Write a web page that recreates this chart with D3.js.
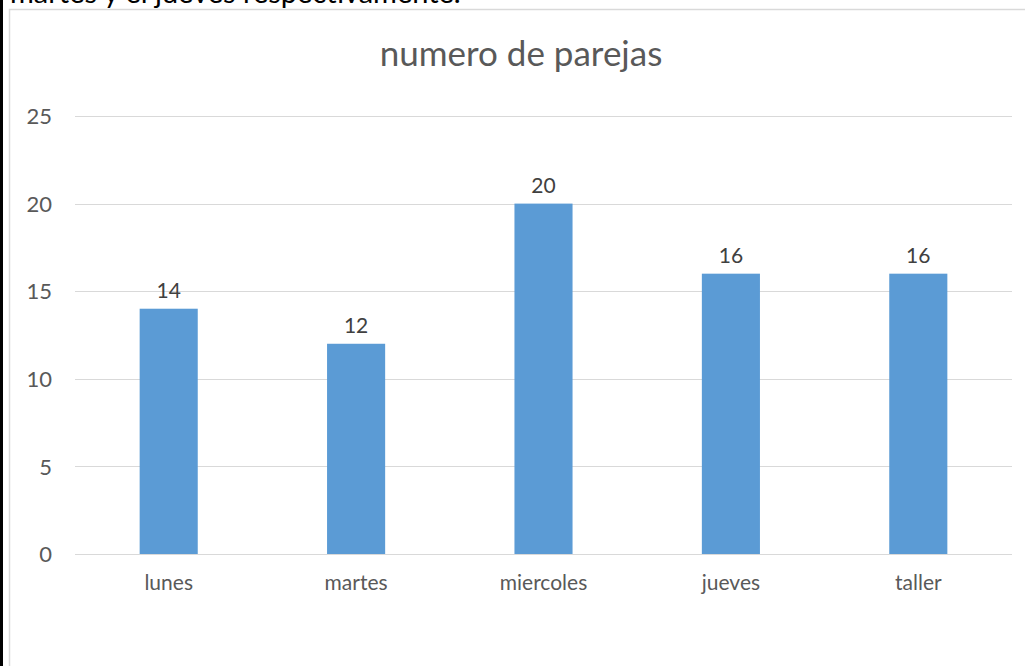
<!DOCTYPE html>
<html lang="es">
<head>
<meta charset="UTF-8" />
<title>numero de parejas</title>
<style>
  body { margin: 0; background: #fff; overflow: hidden; }
  svg { display: block; font-family: Lato, "Open Sans", sans-serif; }
  .grid line { stroke: #d9d9d9; stroke-width: 1px; }
  .axis text { fill: #595959; font-size: 21px; font-family: Lato, "Open Sans", sans-serif; }
  .yaxis text { font-size: 22px; }
  .label { fill: #404040; font-size: 21px; text-anchor: middle; }
</style>
</head>
<body>
<svg id="chart"></svg>
<script src="https://cdn.jsdelivr.net/npm/d3@7"></script>
<script>
// data
const categories = ["lunes", "martes", "miercoles", "jueves", "taller"];
const values = [14, 12, 20, 16, 16];
const yTicks = [0, 5, 10, 15, 20, 25];
const chartTitle = "numero de parejas";
const pageText = "martes y el jueves respectivamente.";

const width = 1025, height = 666;
const svg = d3.select("#chart").attr("width", width).attr("height", height);

// page bits around the chart
svg.append("rect").attr("x", 0).attr("y", 0).attr("width", 3).attr("height", height).attr("fill", "#000");
svg.append("text")
  .attr("x", 10).attr("y", 3)
  .attr("font-size", 29).attr("fill", "#000")
  .text(pageText);

// chart frame (right/bottom run off the page)
svg.append("rect")
  .attr("x", 9.5).attr("y", 9.5)
  .attr("width", width + 20).attr("height", height + 20)
  .attr("fill", "none").attr("stroke", "#d9d9d9").attr("stroke-width", 1.5);

svg.append("text")
  .attr("x", 521).attr("y", 66)
  .attr("text-anchor", "middle")
  .attr("font-size", 35).attr("fill", "#595959")
  .text(chartTitle);

const plot = { left: 75, right: 1012, top: 116, bottom: 554 };

const x = d3.scaleBand().domain(categories).range([plot.left, plot.right]).paddingInner(0.69).paddingOuter(0.345);
const y = d3.scaleLinear().domain([0, 25]).range([plot.bottom, plot.top]);

// gridlines
svg.append("g").attr("class", "grid")
  .selectAll("line").data(yTicks).join("line")
  .attr("x1", plot.left).attr("x2", plot.right)
  .attr("y1", d => Math.round(y(d)) + 0.5).attr("y2", d => Math.round(y(d)) + 0.5);

// y axis labels
const yAxis = svg.append("g").attr("class", "axis yaxis")
  .attr("transform", `translate(${plot.left - 23},0)`)
  .call(d3.axisLeft(y).tickValues(yTicks).tickSize(0).tickPadding(0));
yAxis.select(".domain").remove();
yAxis.selectAll("text").attr("dy", "0.35em");

// bars
svg.append("g").selectAll("rect").data(values).join("rect")
  .attr("x", (d, i) => x(categories[i]))
  .attr("y", d => y(d))
  .attr("width", x.bandwidth())
  .attr("height", d => y(0) - y(d))
  .attr("fill", "#5b9bd5");

// redraw base line over bars
svg.append("line")
  .attr("x1", plot.left).attr("x2", plot.right)
  .attr("y1", Math.round(y(0)) + 0.5).attr("y2", Math.round(y(0)) + 0.5)
  .attr("stroke", "#d9d9d9");

// value labels
svg.append("g").selectAll("text").data(values).join("text")
  .attr("class", "label")
  .attr("x", (d, i) => x(categories[i]) + x.bandwidth() / 2)
  .attr("y", d => y(d) - 11)
  .text(d => d);

// x axis labels
const xAxis = svg.append("g").attr("class", "axis")
  .attr("transform", `translate(0,${plot.bottom + 20})`)
  .call(d3.axisBottom(x).tickSize(0).tickPadding(0));
xAxis.select(".domain").remove();
xAxis.selectAll("text").attr("dy", "0.75em");
</script>
</body>
</html>
